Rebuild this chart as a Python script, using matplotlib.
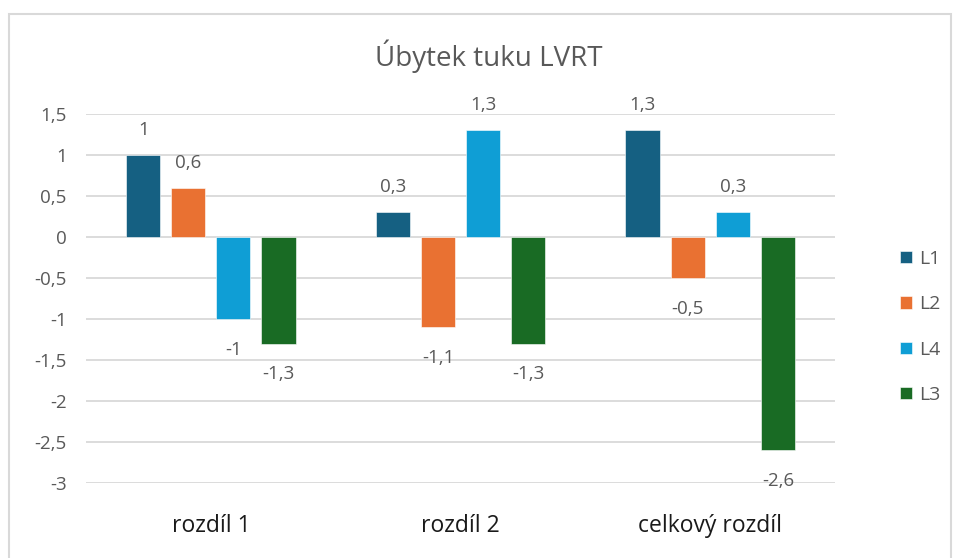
import matplotlib
matplotlib.use('Agg')
import matplotlib.pyplot as plt
import numpy as np
from matplotlib.patches import Rectangle

# data
categories = ['rozdíl 1', 'rozdíl 2', 'celkový rozdíl']
series = ['L1', 'L2', 'L4', 'L3']
L1 = [1, 0.3, 1.3]
L2 = [0.6, -1.1, -0.5]
L4 = [-1, 1.3, 0.3]
L3 = [-1.3, -1.3, -2.6]
yticks = [1.5, 1, 0.5, 0, -0.5, -1, -1.5, -2, -2.5, -3]

colors = ['#156082', '#E97132', '#0F9ED5', '#196B24']
values = [L1, L2, L4, L3]

plt.rcParams['font.family'] = ['Open Sans', 'DejaVu Sans']

fig = plt.figure(figsize=(9.57, 5.58), dpi=100)
W, H = 957, 558

# outer chart border
fig.patches.append(Rectangle((9 / W, -0.05), (951 - 9) / W, 1.05 - 14 / H,
                             transform=fig.transFigure, fill=False,
                             edgecolor='#d9d9d9', linewidth=1.5))

ax = fig.add_axes([86 / W, 1 - 483 / H, (835 - 86) / W, (483 - 114) / H])

x = np.arange(len(categories))
offsets = [-0.271, -0.090, 0.090, 0.271]
width = 0.137

for vals, off, c, name in zip(values, offsets, colors, series):
    ax.bar(x + off, vals, width, color=c, label=name,
           edgecolor='white', linewidth=0.4, zorder=3)
    for xi, v in zip(x + off, vals):
        lab = ('%g' % v).replace('.', ',')
        dy = 18 if v >= 0 else -22
        ax.annotate(lab, (xi, v), xytext=(0, dy), textcoords='offset points',
                    ha='center', va='center', fontsize=13.5, color='#595959')

ax.set_xlim(-0.5, 2.5)
ax.set_ylim(-3, 1.5)
ax.set_yticks(yticks)
ax.set_yticklabels([('%g' % t).replace('.', ',') for t in yticks])
ax.set_xticks(x)
ax.set_xticklabels(categories)
ax.tick_params(axis='y', length=0, pad=14, labelsize=13.5, labelcolor='#595959')
ax.tick_params(axis='x', length=0, pad=22, labelsize=16.5, labelcolor='#1a1a1a')
ax.grid(axis='y', color='#d9d9d9', linewidth=1.3, zorder=0)
for s in ax.spines.values():
    s.set_visible(False)

fig.text(489 / W, 1 - 56 / H, 'Úbytek tuku LVRT', ha='center', va='center',
         fontsize=20, color='#595959')

ax.legend(loc='center left', bbox_to_anchor=(900 / W, 1 - 327 / H),
          bbox_transform=fig.transFigure, frameon=False, fontsize=14,
          labelcolor='#595959', handlelength=0.6, handleheight=0.6,
          handletextpad=0.4, labelspacing=1.4, borderpad=0, borderaxespad=0)

fig.savefig('out.png', dpi=100)
